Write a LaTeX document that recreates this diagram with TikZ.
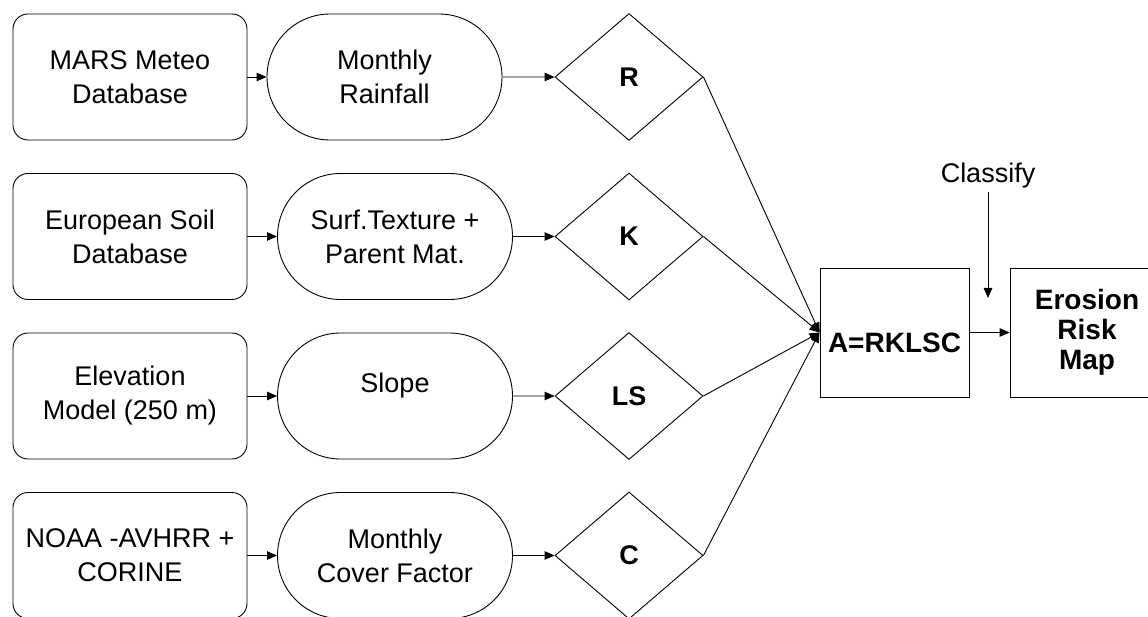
\documentclass[tikz,border=0pt]{standalone}
\usepackage{fontspec}
\setmainfont{Liberation Sans}
\usetikzlibrary{arrows.meta,shapes.geometric,shapes.misc}
\tikzset{
	srcbox/.style={draw, rounded corners=15pt, minimum width=234pt, minimum height=126pt, align=center, inner sep=0pt},
	derived/.style={draw, rounded rectangle, minimum width=235pt, minimum height=126pt, align=center, inner sep=0pt},
	factor/.style={draw, diamond, minimum width=148pt, minimum height=127pt, inner sep=0pt, font=\fontsize{27}{30}\selectfont\bfseries},
	model/.style={draw, rectangle, minimum height=129pt, align=center, inner sep=0pt, font=\fontsize{28}{30}\selectfont\bfseries},
	flow/.style={-{Triangle[length=10pt,width=8.5pt]}}
}

\begin{document}
\begin{tikzpicture}[x=1pt, y=-1pt, line width=0.9pt, font=\fontsize{27}{34}\selectfont]
			%%%%% START %%%%%
			\clip (0, 0) rectangle (1148, 617);
			\fill[white] (0, 0) rectangle (1148, 617);
			
			\node[srcbox] (mars) at (130, 77) {MARS Meteo\\Database};
			\node[srcbox] (soil) at (130, 236.5) {European Soil\\Database};
			\node[srcbox] (dem) at (130, 396) {Elevation\\Model (250 m)};
			\node[srcbox] (noaa) at (130, 555.5) {NOAA -AVHRR +\\CORINE};
			
			\node[derived] (rain) at (384.5, 77) {Monthly\\Rainfall};
			\node[derived] (texture) at (395, 236.5) {Surf.Texture +\\Parent Mat.};
			\node[derived, text depth=26pt] (slope) at (395, 396) {Slope};
			\node[derived] (cover) at (395, 555.5) {Monthly\\Cover Factor};
			
			\node[factor] (r) at (629, 77) {R};
			\node[factor] (k) at (629, 236.5) {K};
			\node[factor] (ls) at (629, 396) {LS};
			\node[factor] (c) at (629, 555.5) {C};
			
			\node[model, minimum width=149pt, text height=40pt] (usle) at (894.5, 332.5) {A=RKLSC};
			\node[model, minimum width=154pt] (risk) at (1087, 332.5) {Erosion\\Risk\\Map};
			
			\node (classify) at (988, 176) {Classify};
			\coordinate (drop) at (988, 298);
			
			\draw[flow] (mars) -- (rain);
			\draw[flow] (soil) -- (texture);
			\draw[flow] (dem) -- (slope);
			\draw[flow] (noaa) -- (cover);
			
			\draw[flow] (rain) -- (r);
			\draw[flow] (texture) -- (k);
			\draw[flow] (slope) -- (ls);
			\draw[flow] (cover) -- (c);
			
			\draw[flow] (r.east) -- (usle.west);
			\draw[flow] (k.east) -- (usle.west);
			\draw[flow] (ls.east) -- (usle.west);
			\draw[flow] (c.east) -- (usle.west);
			
			\draw[flow] (usle.east) -- (risk.west);
			\draw[flow] (classify) -- (drop);
			%%%%% END %%%%%
\end{tikzpicture}
\end{document}
